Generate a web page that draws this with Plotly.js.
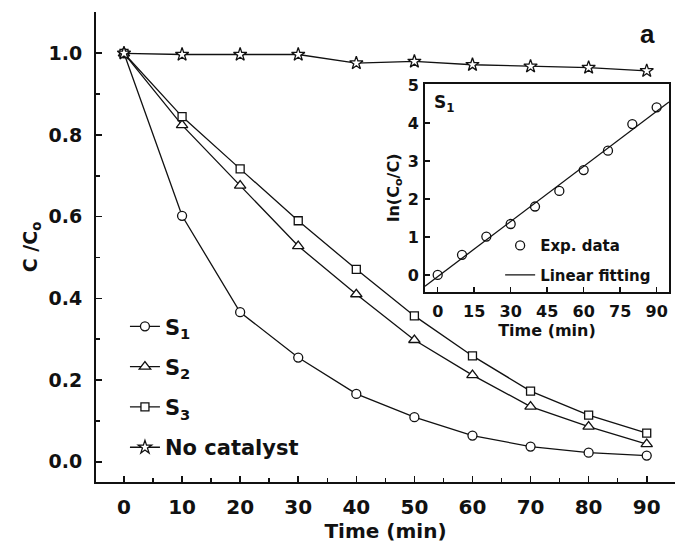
<!DOCTYPE html>
<html><head><meta charset="utf-8">
<script src="https://cdn.plot.ly/plotly-3.0.1.min.js"></script>
<style>html,body{margin:0;padding:0;background:#fff}#chart{width:675px;height:543px}</style>
</head><body><div id="chart"></div>
<script>
// Main panel data
const time = [0, 10, 20, 30, 40, 50, 60, 70, 80, 90];
const s1 = [1.0, 0.602, 0.366, 0.255, 0.166, 0.109, 0.064, 0.037, 0.022, 0.015];
const s2 = [1.0, 0.824, 0.676, 0.528, 0.410, 0.298, 0.212, 0.135, 0.086, 0.043];
const s3 = [1.0, 0.845, 0.717, 0.590, 0.471, 0.357, 0.259, 0.173, 0.114, 0.070];
const noCatalyst = [1.0, 0.997, 0.997, 0.997, 0.976, 0.980, 0.972, 0.968, 0.965, 0.957];
const seriesNames = ['S<sub>1</sub>', 'S<sub>2</sub>', 'S<sub>3</sub>', 'No catalyst'];
const xTicks = [0, 10, 20, 30, 40, 50, 60, 70, 80, 90];
const yTicks = [0.0, 0.2, 0.4, 0.6, 0.8, 1.0];
const yTickLabels = ['0.0', '0.2', '0.4', '0.6', '0.8', '1.0'];

// Inset data (S1 kinetics)
const insetTime = [0, 10, 20, 30, 40, 50, 60, 70, 80, 90];
const lnRatio = [0.0, 0.53, 1.01, 1.34, 1.80, 2.21, 2.76, 3.27, 3.97, 4.41];
const insetXTicks = [0, 15, 30, 45, 60, 75, 90];
const insetYTicks = [0, 1, 2, 3, 4, 5];
const insetNames = ['Exp. data', 'Linear fitting'];

// Axis ranges
const xRange = [-4.82, 94.87];
const yRange = [-0.0497, 1.1011];
const insetXRange = [-5.22, 95.07];
const insetYRange = [-0.44, 5.026];

// least-squares linear fit of the inset data
const n = insetTime.length;
const mx = insetTime.reduce((a, b) => a + b, 0) / n;
const my = lnRatio.reduce((a, b) => a + b, 0) / n;
let sxy = 0, sxx = 0;
for (let i = 0; i < n; i++) { sxy += (insetTime[i] - mx) * (lnRatio[i] - my); sxx += (insetTime[i] - mx) ** 2; }
const slope = sxy / sxx, intercept = my - slope * mx;
const fitX = [insetXRange[0], insetXRange[1]];
const fitY = fitX.map(x => intercept + slope * x);

const FONT = 'DejaVu Sans, Arial, sans-serif';
const black = '#111';
const lineW = 1.3;

function series(y, name, symbol, size, group) {
  return {
    x: time, y: y, name: name, type: 'scatter', mode: 'lines+markers',
    line: {color: black, width: lineW},
    marker: {symbol: symbol, size: size, color: '#fff', line: {color: black, width: 1.3}},
    legendgroup: group, legend: 'legend', xaxis: 'x', yaxis: 'y'
  };
}

const data = [
  series(s1, seriesNames[0], 'circle', 9, 'g1'),
  series(s2, seriesNames[1], 'triangle-up', 10, 'g2'),
  series(s3, seriesNames[2], 'square', 8, 'g3'),
  series(noCatalyst, seriesNames[3], 'star', 10, 'g4'),
  {
    x: insetTime, y: lnRatio, name: insetNames[0], type: 'scatter', mode: 'markers',
    marker: {symbol: 'circle', size: 9, color: '#fff', line: {color: black, width: 1.3}},
    xaxis: 'x2', yaxis: 'y2', legend: 'legend2', legendgroup: 'h1'
  },
  {
    x: fitX, y: fitY, name: insetNames[1], type: 'scatter', mode: 'lines',
    line: {color: black, width: 1.3}, xaxis: 'x2', yaxis: 'y2', legend: 'legend2', legendgroup: 'h2'
  }
];

const tickFont = {family: FONT, size: 19, color: black, weight: 'bold'};

const layout = {
  width: 675, height: 543,
  margin: {l: 96, r: 0, t: 12, b: 61},
  paper_bgcolor: '#fff', plot_bgcolor: '#fff',
  font: {family: FONT, color: black},
  showlegend: true,
  xaxis: {
    domain: [0, 1], range: xRange, tickvals: xTicks,
    ticks: 'inside', ticklen: 6, tickwidth: 1.6, tickcolor: black,
    minor: {dtick: 5, ticks: 'inside', ticklen: 4, tickwidth: 1.4, tickcolor: black, showgrid: false},
    showline: true, linewidth: 2, linecolor: black, showgrid: false, zeroline: false,
    tickfont: {family: FONT, size: 20, color: black, weight: 'bold'},
    ticklabelstandoff: 6,
    title: {text: 'Time (min)', font: {family: FONT, size: 20, color: black, weight: 'bold'}, standoff: 6}
  },
  yaxis: {
    domain: [0, 1], range: yRange, tickvals: yTicks, ticktext: yTickLabels,
    ticks: 'inside', ticklen: 6, tickwidth: 1.6, tickcolor: black,
    minor: {dtick: 0.1, tick0: 0, ticks: 'inside', ticklen: 4, tickwidth: 1.4, tickcolor: black, showgrid: false},
    showline: true, linewidth: 2, linecolor: black, showgrid: false, zeroline: false,
    tickfont: tickFont, ticklabelstandoff: 8,
    title: {text: 'C /C<sub>o</sub>', font: {family: FONT, size: 19, color: black, weight: 'bold'}, standoff: 6}
  },
  xaxis2: {
    domain: [0.5682, 0.9896], anchor: 'y2', range: insetXRange, tickvals: insetXTicks,
    ticks: 'inside', ticklen: 5, tickwidth: 1.4, tickcolor: black,
    showline: true, mirror: true, linewidth: 2, linecolor: black, showgrid: false, zeroline: false,
    tickfont: {family: FONT, size: 16, color: black, weight: 'bold'}, ticklabelstandoff: 4,
    title: {text: 'Time (min)', font: {family: FONT, size: 16, color: black, weight: 'bold'}, standoff: 1}
  },
  yaxis2: {
    domain: [0.405, 0.847], anchor: 'x2', range: insetYRange, tickvals: insetYTicks,
    ticks: 'inside', ticklen: 5, tickwidth: 1.4, tickcolor: black,
    showline: true, mirror: true, linewidth: 2, linecolor: black, showgrid: false, zeroline: false,
    tickfont: {family: FONT, size: 16, color: black, weight: 'bold'}, ticklabelstandoff: 1,
    title: {text: 'ln(C<sub>o</sub>/C)', font: {family: FONT, size: 16, color: black, weight: 'bold'}, standoff: 4}
  },
  legend: {
    x: 0.05, y: 0.374, xanchor: 'left', yanchor: 'top',
    bgcolor: 'rgba(0,0,0,0)', borderwidth: 0, tracegroupgap: 10,
    font: {family: FONT, size: 21, color: black, weight: 'bold'}
  },
  legend2: {
    x: 0.698, y: 0.538, xanchor: 'left', yanchor: 'top',
    bgcolor: 'rgba(0,0,0,0)', borderwidth: 0, tracegroupgap: 7,
    font: {family: FONT, size: 15, color: black, weight: 'bold'}
  },
  annotations: [
    {text: 'a', xref: 'paper', yref: 'paper', x: 0.953, y: 0.953, xanchor: 'center', yanchor: 'middle', showarrow: false,
     font: {family: 'Liberation Sans, Arial, sans-serif', size: 26, color: black, weight: 'bold'}},
    {text: 'S<sub>1</sub>', xref: 'x2 domain', yref: 'y2 domain', x: 0.03, y: 0.97,
     xanchor: 'left', yanchor: 'top', showarrow: false,
     font: {family: FONT, size: 17, color: black, weight: 'bold'}}
  ]
};

Plotly.newPlot('chart', data, layout, {staticPlot: true, displayModeBar: false});
</script>
</body></html>
